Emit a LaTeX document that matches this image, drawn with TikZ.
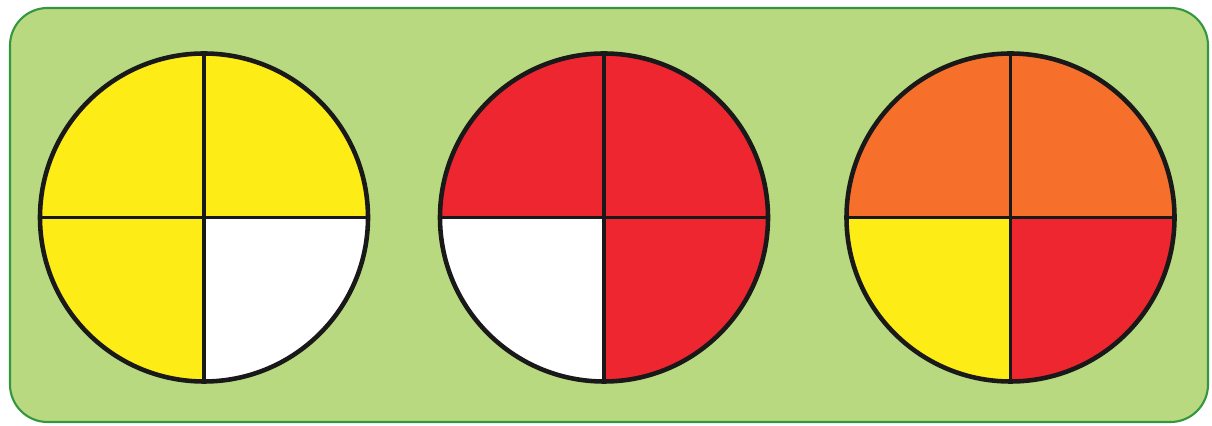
\documentclass[tikz,border=0pt]{standalone}
\usetikzlibrary{positioning}
\definecolor{BoardGreen}{RGB}{184,217,128}
\definecolor{BoardEdge}{RGB}{52,150,62}
\definecolor{PieYellow}{RGB}{254,236,22}
\definecolor{PieRed}{RGB}{238,38,48}
\definecolor{PieOrange}{RGB}{246,112,44}
\tikzset{
  board/.style={draw=BoardEdge,fill=BoardGreen,line width=1.2pt,rounded corners=0.75cm},
  pie/.style={circle,draw=black!90,line width=2.6pt,minimum size=6.56cm,inner sep=0pt,outer sep=0pt},
  cut/.style={draw=black!90,line width=2pt}
}
\begin{document}
\begin{tikzpicture}
  \useasboundingbox (0,0) rectangle (24.24,8.52);
  \path[board] (0.2,0.08) rectangle (24.16,8.36);
  % three pies: top-left, top-right, bottom-left, bottom-right
  \foreach \n/\x/\ca/\cb/\cc/\cd in {1/4.08/PieYellow/PieYellow/PieYellow/white,
      2/12.08/PieRed/PieRed/white/PieRed,
      3/20.21/PieOrange/PieOrange/PieYellow/PieRed}{
    \coordinate (c\n) at (\x,4.17);
    \fill[\ca] (c\n) -- ++(0,3.28) arc[start angle=90,end angle=180,radius=3.28cm] -- cycle;
    \fill[\cb] (c\n) -- ++(3.28,0) arc[start angle=0,end angle=90,radius=3.28cm] -- cycle;
    \fill[\cc] (c\n) -- ++(-3.28,0) arc[start angle=180,end angle=270,radius=3.28cm] -- cycle;
    \fill[\cd] (c\n) -- ++(0,-3.28) arc[start angle=270,end angle=360,radius=3.28cm] -- cycle;
    \node[pie] (p\n) at (c\n) {};
    \draw[cut] (p\n.north) -- (p\n.south);
    \draw[cut] (p\n.west) -- (p\n.east);
  }
\end{tikzpicture}
\end{document}
